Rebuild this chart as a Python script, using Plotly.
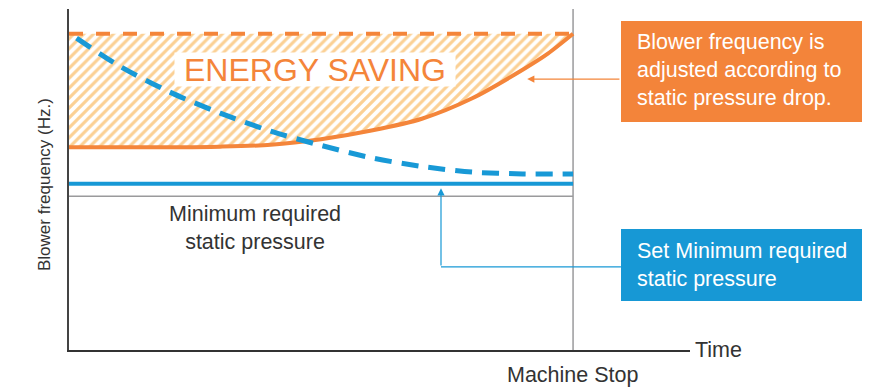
import plotly.graph_objects as go

# --- data (time in arbitrary units, machine stop at t = 10; frequency in arbitrary Hz units) ---
time_pts = [0, 1, 2, 3, 4, 5, 6, 7, 8, 9, 9.5, 10]
adjusted_freq = [32.7, 32.7, 32.7, 32.8, 33.1, 34.0, 35.4, 37.3, 40.6, 45.2, 47.8, 51.0]

pressure_t = [0.15, 1, 2, 3, 4, 5, 6, 7, 8, 9, 10]
static_pressure = [50.3, 45.8, 41.6, 38.2, 35.3, 33.0, 31.0, 29.6, 28.7, 28.4, 28.4]

max_freq = 51.0          # fixed (non-inverter) blower frequency
set_min_pressure = 26.8  # set minimum required static pressure
min_line = 24.8          # minimum required static pressure boundary
machine_stop = 10.0

X_MAX = 12.32
Y_MAX = 55.0

ORANGE = "#F4853A"
HATCH = "#F7A22A"
BLUE = "#1899D6"
GREY = "#9A9A9C"
DARK = "#333333"
FONT = "Liberation Sans, Arial, sans-serif"

fig = go.Figure()

# hatched energy-saving region between fixed frequency and the adjusted curve
fig.add_trace(go.Scatter(
    x=time_pts + time_pts[::-1],
    y=adjusted_freq + [max_freq] * len(time_pts),
    fill="toself", mode="none",
    fillcolor="rgba(0,0,0,0)",
    fillpattern=dict(shape="/", fgcolor=HATCH, bgcolor="white", size=7, solidity=0.45),
    line=dict(shape="spline"),
    hoverinfo="skip", showlegend=False,
))

# minimum required static pressure boundary
fig.add_trace(go.Scatter(x=[0, machine_stop], y=[min_line, min_line], mode="lines",
                         line=dict(color=GREY, width=1.5), showlegend=False, hoverinfo="skip"))
# machine stop marker
fig.add_trace(go.Scatter(x=[machine_stop, machine_stop], y=[0, Y_MAX], mode="lines",
                         line=dict(color=GREY, width=1.5), showlegend=False, hoverinfo="skip"))

# fixed frequency (dashed orange)
fig.add_trace(go.Scatter(x=[0, machine_stop], y=[max_freq, max_freq], mode="lines",
                         line=dict(color=ORANGE, width=4, dash="14px,13px"),
                         showlegend=False, hoverinfo="skip"))
# adjusted blower frequency
fig.add_trace(go.Scatter(x=time_pts, y=adjusted_freq, mode="lines",
                         line=dict(color=ORANGE, width=4, shape="spline", smoothing=0.8),
                         showlegend=False, hoverinfo="skip"))
# static pressure (dashed blue)
fig.add_trace(go.Scatter(x=pressure_t, y=static_pressure, mode="lines",
                         line=dict(color=BLUE, width=5, dash="17px,10px", shape="spline", smoothing=0.8),
                         showlegend=False, hoverinfo="skip"))
# set minimum static pressure
fig.add_trace(go.Scatter(x=[0, machine_stop], y=[set_min_pressure, set_min_pressure], mode="lines",
                         line=dict(color=BLUE, width=4), showlegend=False, hoverinfo="skip"))

# callout connector for the blue box
callout_x = 10.95
blue_elbow_x = 7.38
blue_elbow_y = 13.4
fig.add_trace(go.Scatter(x=[callout_x, blue_elbow_x], y=[blue_elbow_y, blue_elbow_y], mode="lines",
                         line=dict(color=BLUE, width=1.2), showlegend=False, hoverinfo="skip"))


def px_x(p):
    return (p - 69) / 621.0


def px_y(p):
    return (350 - p) / 341.0


shapes = [
    dict(type="rect", xref="paper", yref="paper", x0=px_x(621), x1=px_x(862), y0=px_y(122), y1=px_y(21),
         fillcolor="#F3843A", line=dict(width=0), layer="above"),
    dict(type="rect", xref="paper", yref="paper", x0=px_x(621), x1=px_x(862), y0=px_y(301), y1=px_y(229),
         fillcolor="#1798D5", line=dict(width=0), layer="above"),
]

annotations = [
    # energy saving label on a white patch
    dict(text="ENERGY SAVING", x=(315 - 69) / 50.4, y=(350 - 69) / 6.2, xref="x", yref="y",
         showarrow=False, font=dict(family=FONT, size=32, color=ORANGE),
         bgcolor="white", width=280, height=33, borderpad=0),
    # orange arrow to the adjusted curve
    dict(x=9.09, y=43.7, ax=callout_x, ay=43.7, xref="x", yref="y", axref="x", ayref="y",
         text="", showarrow=True, arrowhead=2, arrowsize=1.2, arrowwidth=1.2, arrowcolor=ORANGE),
    # blue arrow up to the set minimum line
    dict(x=blue_elbow_x, y=26.1, ax=blue_elbow_x, ay=blue_elbow_y, xref="x", yref="y", axref="x", ayref="y",
         text="", showarrow=True, arrowhead=2, arrowsize=1.2, arrowwidth=1.2, arrowcolor=BLUE),
    # box texts
    dict(text="Blower frequency is<br>adjusted according to<br>static pressure drop.",
         xref="paper", yref="paper", x=px_x(635), y=px_y(70), xanchor="left", yanchor="middle",
         align="left", showarrow=False, font=dict(family=FONT, size=21.5, color="white")),
    dict(text="Set Minimum required<br>static pressure",
         xref="paper", yref="paper", x=px_x(635), y=px_y(264.5), xanchor="left", yanchor="middle",
         align="left", showarrow=False, font=dict(family=FONT, size=21.5, color="white")),
    # in-plot label
    dict(text="Minimum required<br>static pressure", x=(255 - 69) / 50.4, y=(350 - 228) / 6.2,
         xref="x", yref="y", showarrow=False, align="center",
         font=dict(family=FONT, size=21.5, color=DARK)),
    # axis labels
    dict(text="Time", xref="paper", yref="paper", x=px_x(693), y=px_y(350), xanchor="left",
         yanchor="middle", showarrow=False, font=dict(family=FONT, size=21.5, color=DARK)),
    dict(text="Machine Stop", xref="x", yref="paper", x=machine_stop, y=px_y(375),
         xanchor="center", yanchor="middle", showarrow=False,
         font=dict(family=FONT, size=21.5, color=DARK)),
    dict(text="Blower frequency (Hz.)", xref="paper", yref="paper", x=px_x(44), y=px_y(185),
         xanchor="center", yanchor="middle", textangle=-90, showarrow=False,
         font=dict(family=FONT, size=17, color=DARK)),
]

fig.update_layout(
    width=880, height=387,
    margin=dict(l=69, r=190, t=9, b=37),
    paper_bgcolor="white", plot_bgcolor="white",
    showlegend=False,
    shapes=shapes,
    annotations=annotations,
    xaxis=dict(range=[0, X_MAX], showgrid=False, zeroline=False, showticklabels=False,
               ticks="", showline=True, linecolor=DARK, linewidth=1.5, fixedrange=True),
    yaxis=dict(range=[0, Y_MAX], showgrid=False, zeroline=False, showticklabels=False,
               ticks="", showline=True, linecolor="#444444", linewidth=2, fixedrange=True),
)

fig.write_html("out.html")
